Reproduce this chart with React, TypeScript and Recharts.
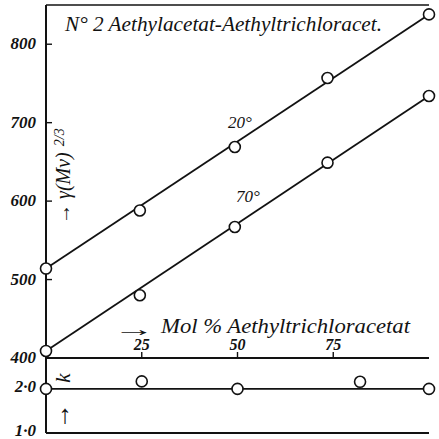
import React from "react";
import { ComposedChart, Line, Scatter, XAxis, YAxis } from "recharts";

// mol % Aethyltrichloracetat for the surface-energy points
const mol = [0, 24.5, 49.3, 73.5, 100];
const energy20 = [514, 588, 669, 757, 838];
const energy70 = [409, 480, 567, 649, 734];
// straight fit lines drawn through the ends
const fitMol = [0, 100];
const fit20 = [514, 838];
const fit70 = [409, 734];

// lower panel: k
const kMol = [0, 25, 50, 82, 100];
const kValues = [2.0, 2.17, 2.0, 2.16, 2.0];
const kLine = [2.0, 2.0];

const xTicks = [25, 50, 75];
const upperTicks = [400, 500, 600, 700, 800];
const lowerTicks = [1, 2];

const INK = "#121212";
const FONT = "Liberation Serif";

const rows = (xs: number[], ys: number[]) => xs.map((x, i) => ({ x, y: ys[i] }));

const ring = (p: any) => (
  <circle cx={p.cx} cy={p.cy} r={5.5} fill="#fff" stroke={INK} strokeWidth={1.6} />
);

function YTick(props: any) {
  const { x, y, payload, inner, fmt, dy = 5 } = props;
  return (
    <g>
      {inner && <line x1={x} x2={x + 6} y1={y} y2={y} stroke={INK} strokeWidth={1.4} />}
      <text x={x - 10} y={y} dy={dy} textAnchor="end" fontFamily={FONT}
        fontStyle="italic" fontWeight="bold" fontSize={17} fill={INK}>
        {fmt ? fmt(payload.value) : payload.value}
      </text>
    </g>
  );
}

function XTick(props: any) {
  const { x, y, payload } = props;
  return (
    <g>
      <line x1={x} x2={x} y1={y} y2={y - 6} stroke={INK} strokeWidth={1.4} />
      <text x={x} y={y - 8} textAnchor="middle" fontFamily={FONT}
        fontStyle="italic" fontWeight="bold" fontSize={16} fill={INK}>
        {payload.value}
      </text>
    </g>
  );
}

const axisLine = { stroke: INK, strokeWidth: 2 };

function Label(props: { x?: number; y?: number; size: number; len?: number; transform?: string; anchor?: string; italic?: boolean; children: React.ReactNode }) {
  const { x, y, size, len, transform, anchor, italic = true, children } = props;
  return (
    <text x={x} y={y} transform={transform} textAnchor={anchor} fontFamily={FONT}
      fontStyle={italic ? "italic" : "normal"} fontSize={size} fill={INK}
      textLength={len} lengthAdjust={len ? "spacingAndGlyphs" : undefined}>
      {children}
    </text>
  );
}

export default function App() {
  return (
    <div style={{ position: "absolute", left: 0, top: 0, width: 439, height: 439, background: "#fff", fontFamily: FONT }}>
      <div style={{ position: "absolute", left: 0, top: 0 }}>
        <ComposedChart width={439} height={439} margin={{ top: 4, right: 10, bottom: 80, left: 0 }}>
          <XAxis dataKey="x" type="number" domain={[0, 100]} ticks={xTicks} height={1} interval={0}
            tickSize={0} tickMargin={0} tickLine={false} axisLine={axisLine} tick={<XTick />} />
          <XAxis xAxisId="top" dataKey="x" type="number" domain={[0, 100]} orientation="top"
            height={1} tick={false} tickLine={false} axisLine={{ stroke: INK, strokeWidth: 1.6 }} />
          <YAxis type="number" domain={[400, 850]} ticks={upperTicks} width={46} interval={0}
            tickSize={0} tickMargin={0} tickLine={false} axisLine={axisLine}
            tick={<YTick inner />} />
          <YAxis yAxisId="right" orientation="right" type="number" domain={[400, 850]} width={0}
            tick={false} tickLine={false} axisLine={{ stroke: INK, strokeWidth: 1.6 }} />
          <Line data={rows(fitMol, fit20)} dataKey="y" type="linear" stroke={INK} strokeWidth={1.8}
            dot={false} isAnimationActive={false} />
          <Line data={rows(fitMol, fit70)} dataKey="y" type="linear" stroke={INK} strokeWidth={1.8}
            dot={false} isAnimationActive={false} />
          <Scatter data={rows(mol, energy20)} dataKey="y" shape={ring} isAnimationActive={false} />
          <Scatter data={rows(mol, energy70)} dataKey="y" shape={ring} isAnimationActive={false} />
        </ComposedChart>
      </div>
      <div style={{ position: "absolute", left: 0, top: 0 }}>
        <ComposedChart width={439} height={439} margin={{ top: 358, right: 10, bottom: 5, left: 0 }}>
          <XAxis dataKey="x" type="number" domain={[0, 100]} height={1} tick={false}
            tickLine={false} axisLine={axisLine} />
          <YAxis type="number" domain={[1, 2.7]} ticks={lowerTicks} width={46} interval={0}
            tickSize={0} tickMargin={0} tickLine={false} axisLine={axisLine}
            tick={<YTick dy={3} fmt={(v: number) => v.toFixed(1).replace(".", "·")} />} />
          <YAxis yAxisId="right" orientation="right" type="number" domain={[1, 2.7]} width={0}
            tick={false} tickLine={false} axisLine={{ stroke: INK, strokeWidth: 1.6 }} />
          <Line data={rows(fitMol, kLine)} dataKey="y" type="linear" stroke={INK} strokeWidth={1.8}
            dot={false} isAnimationActive={false} />
          <Scatter data={rows(kMol, kValues)} dataKey="y" shape={ring} isAnimationActive={false} />
        </ComposedChart>
      </div>
      <svg width={439} height={439} style={{ position: "absolute", left: 0, top: 0, pointerEvents: "none" }}>
        <Label x={65} y={31} size={20} len={317}>N° 2 Aethylacetat-Aethyltrichloracet.</Label>
        <Label x={228} y={128} size={17}>20°</Label>
        <Label x={236} y={202} size={17}>70°</Label>
        <Label transform="translate(70,224) rotate(-90)" size={20}>
          <tspan fontStyle="normal">→ </tspan>
          <tspan>γ(Mv)</tspan>
          <tspan dx={6} dy={-6} fontSize={14}>2/3</tspan>
        </Label>
        <Label transform="translate(70,378) rotate(-90)" anchor="middle" size={21}>k</Label>
        <Label x={65} y={423} anchor="middle" size={26} italic={false}>↑</Label>
        <Label x={113} y={336} size={20} len={42} italic={false}>→</Label>
        <Label x={161} y={333} size={20} len={249}>Mol % Aethyltrichloracetat</Label>
      </svg>
    </div>
  );
}
